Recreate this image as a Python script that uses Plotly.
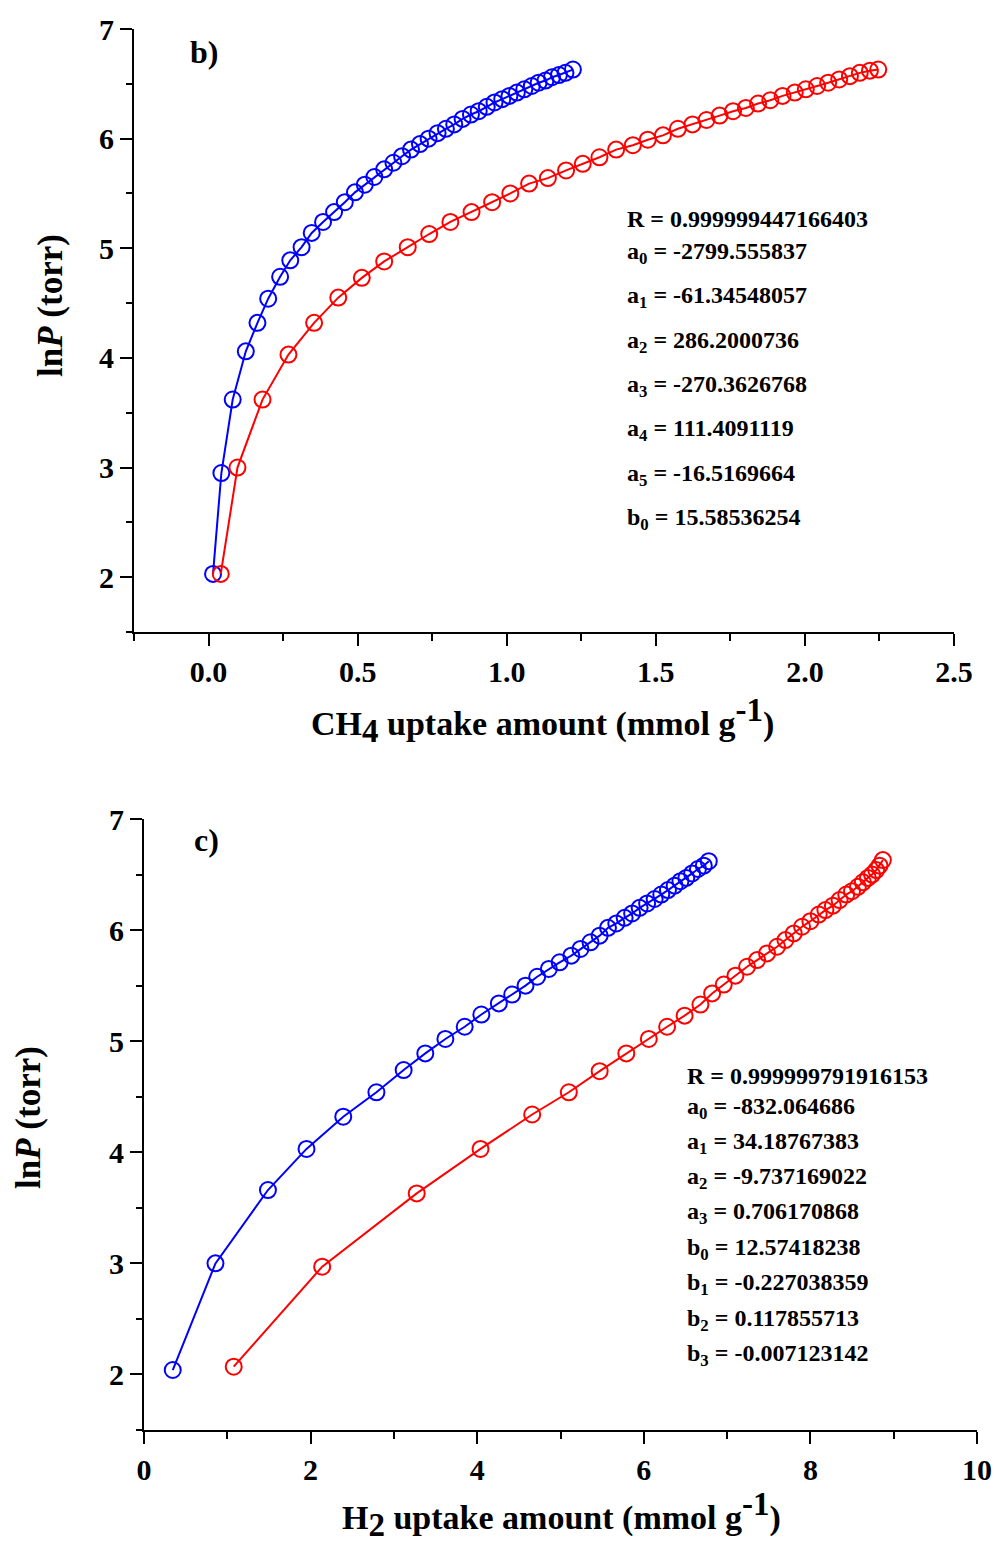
import plotly.graph_objects as go

# ---- panel b) CH4 uptake ----
ch4_blue_x = [0.015, 0.043, 0.081, 0.125, 0.164, 0.200, 0.240, 0.274, 0.312, 0.346,
              0.384, 0.421, 0.457, 0.491, 0.524, 0.556, 0.589, 0.620, 0.649, 0.679,
              0.709, 0.738, 0.768, 0.796, 0.824, 0.852, 0.880, 0.906, 0.933, 0.959,
              0.985, 1.009, 1.034, 1.059, 1.084, 1.107, 1.130, 1.152, 1.175, 1.197, 1.222]
ch4_blue_y = [2.03, 2.95, 3.62, 4.06, 4.32, 4.54, 4.74, 4.89, 5.01, 5.14,
              5.24, 5.33, 5.42, 5.51, 5.58, 5.65, 5.72, 5.78, 5.84, 5.90,
              5.95, 6.00, 6.05, 6.09, 6.13, 6.18, 6.22, 6.25, 6.29, 6.33,
              6.36, 6.39, 6.42, 6.45, 6.48, 6.51, 6.53, 6.56, 6.58, 6.60, 6.63]
ch4_red_x = [0.041, 0.097, 0.181, 0.268, 0.354, 0.435, 0.514, 0.589, 0.668, 0.740,
             0.811, 0.882, 0.951, 1.012, 1.075, 1.138, 1.199, 1.255, 1.311, 1.367,
             1.423, 1.473, 1.524, 1.574, 1.623, 1.670, 1.714, 1.759, 1.802, 1.843,
             1.884, 1.925, 1.966, 2.003, 2.041, 2.078, 2.115, 2.151, 2.184, 2.218, 2.246]
ch4_red_y = [2.03, 3.00, 3.62, 4.03, 4.32, 4.55, 4.73, 4.88, 5.01, 5.13,
             5.24, 5.33, 5.42, 5.50, 5.59, 5.64, 5.71, 5.77, 5.83, 5.90,
             5.94, 5.99, 6.03, 6.09, 6.13, 6.17, 6.21, 6.25, 6.28, 6.32,
             6.35, 6.39, 6.42, 6.45, 6.48, 6.51, 6.54, 6.57, 6.60, 6.62, 6.63]

# ---- panel c) H2 uptake ----
h2_blue_x = [0.345, 0.858, 1.488, 1.951, 2.392, 2.79, 3.117, 3.377, 3.618, 3.850,
             4.05, 4.26, 4.42, 4.58, 4.72, 4.86, 4.99, 5.13, 5.24, 5.36,
             5.47, 5.57, 5.67, 5.77, 5.86, 5.95, 6.04, 6.13, 6.21, 6.29,
             6.37, 6.44, 6.51, 6.58, 6.65, 6.72, 6.78]
h2_blue_y = [2.04, 3.00, 3.66, 4.03, 4.32, 4.54, 4.74, 4.89, 5.02, 5.13,
             5.24, 5.34, 5.42, 5.50, 5.58, 5.65, 5.71, 5.77, 5.83, 5.89,
             5.95, 6.02, 6.06, 6.11, 6.15, 6.20, 6.24, 6.28, 6.32, 6.36,
             6.40, 6.44, 6.47, 6.51, 6.55, 6.58, 6.62]
h2_red_x = [1.077, 2.139, 3.274, 4.04, 4.66, 5.10, 5.47, 5.79, 6.06, 6.28,
            6.49, 6.68, 6.82, 6.96, 7.10, 7.24, 7.36, 7.48, 7.60, 7.70,
            7.80, 7.90, 8.00, 8.10, 8.18, 8.27, 8.35, 8.43, 8.50, 8.57,
            8.63, 8.69, 8.74, 8.79, 8.83, 8.87]
h2_red_y = [2.07, 2.97, 3.63, 4.03, 4.34, 4.54, 4.73, 4.89, 5.02, 5.13,
            5.23, 5.33, 5.43, 5.51, 5.59, 5.67, 5.73, 5.79, 5.85, 5.91,
            5.97, 6.03, 6.08, 6.14, 6.18, 6.22, 6.27, 6.32, 6.35, 6.39,
            6.43, 6.47, 6.50, 6.54, 6.58, 6.63]

ch4_fit = ["R = 0.999999447166403",
           "a<sub>0</sub> = -2799.555837",
           "a<sub>1</sub> = -61.34548057",
           "a<sub>2</sub> = 286.2000736",
           "a<sub>3</sub> = -270.3626768",
           "a<sub>4</sub> = 111.4091119",
           "a<sub>5</sub> = -16.5169664",
           "b<sub>0</sub> = 15.58536254"]
h2_fit = ["R = 0.999999791916153",
          "a<sub>0</sub> = -832.064686",
          "a<sub>1</sub> = 34.18767383",
          "a<sub>2</sub> = -9.737169022",
          "a<sub>3</sub> = 0.706170868",
          "b<sub>0</sub> = 12.57418238",
          "b<sub>1</sub> = -0.227038359",
          "b<sub>2</sub> = 0.117855713",
          "b<sub>3</sub> = -0.007123142"]

W, H = 995, 1544
FONT = "Liberation Serif, Times New Roman, serif"


def px(x):
    return x / W


def py(y):
    return 1 - y / H


fig = go.Figure()


def series(x, y, color, xa, ya):
    fig.add_trace(go.Scatter(
        x=x, y=y, mode="lines+markers", xaxis=xa, yaxis=ya,
        line=dict(color=color, width=2),
        marker=dict(symbol="circle-open", size=16, color=color,
                    line=dict(width=2, color=color)),
        showlegend=False, cliponaxis=False))


series(ch4_blue_x, ch4_blue_y, "#0000ff", "x", "y")
series(ch4_red_x, ch4_red_y, "#ff0000", "x", "y")
series(h2_blue_x, h2_blue_y, "#0000ff", "x2", "y2")
series(h2_red_x, h2_red_y, "#ff0000", "x2", "y2")

tickfont = dict(family=FONT, size=30, color="black", weight="bold")
axis_common = dict(showline=True, linecolor="black", linewidth=2,
                   ticks="outside", ticklen=12, tickwidth=2, tickcolor="black",
                   showgrid=False, zeroline=False, tickfont=tickfont,
                   mirror=False, automargin=False)

fig.update_layout(
    width=W, height=H, margin=dict(l=0, r=0, t=0, b=0, autoexpand=False),
    paper_bgcolor="white", plot_bgcolor="white",
    xaxis=dict(domain=[px(134), px(954)], range=[-0.25, 2.5], anchor="y",
               tick0=0, dtick=0.5, tickformat=".1f", ticklabelstandoff=0,
               minor=dict(dtick=0.25, tick0=0.25, ticks="outside", ticklen=7,
                          tickwidth=2, tickcolor="black"),
               **axis_common),
    yaxis=dict(domain=[py(632), py(29)], range=[1.5, 7], anchor="x",
               tick0=0, dtick=1,
               minor=dict(dtick=0.5, tick0=0.5, ticks="outside", ticklen=6,
                          tickwidth=2, tickcolor="black"),
               **axis_common),
    xaxis2=dict(domain=[px(144), px(977)], range=[0, 10], anchor="y2",
                tick0=0, dtick=2, ticklabelstandoff=0,
                minor=dict(dtick=1, tick0=0, ticks="outside", ticklen=7,
                           tickwidth=2, tickcolor="black"),
                **axis_common),
    yaxis2=dict(domain=[py(1430), py(819)], range=[1.5, 7], anchor="x2",
                tick0=0, dtick=1,
                minor=dict(dtick=0.5, tick0=0.5, ticks="outside", ticklen=6,
                           tickwidth=2, tickcolor="black"),
                **axis_common),
)

ann = []


def text(s, x, y, size, angle=0, xanchor="center"):
    ann.append(dict(text=s, x=px(x), y=py(y), xref="paper", yref="paper",
                    showarrow=False, xanchor=xanchor, yanchor="middle",
                    textangle=angle,
                    font=dict(family=FONT, size=size, color="black", weight="bold")))


# panel labels
text("b)", 204, 52, 32)
text("c)", 206, 840, 32)

# axis titles (full-size sub/superscripts)
SUB = '<sub><span style="font-size:33px">{}</span></sub>'
SUP = '<sup><span style="font-size:33px">{}</span></sup>'
text("CH" + SUB.format("4") + " uptake amount (mmol g" + SUP.format("-1") + ")", 542, 720, 34)
text("H" + SUB.format("2") + " uptake amount (mmol g" + SUP.format("-1") + ")", 561, 1514, 34)
text("ln<i>P</i> (torr)", 50, 306, 35, angle=-90)
text("ln<i>P</i> (torr)", 28, 1118, 35, angle=-90)

# fit parameters
for s, yy in zip(ch4_fit, [219, 253, 297, 342, 386, 430, 475, 519]):
    text(s, 625, yy, 24, xanchor="left")
for s, yy in zip(h2_fit, [1076, 1108, 1143, 1178, 1213, 1249, 1284, 1320, 1355]):
    text(s, 685, yy, 24, xanchor="left")

fig.update_layout(annotations=ann)
fig.write_html("out.html")
